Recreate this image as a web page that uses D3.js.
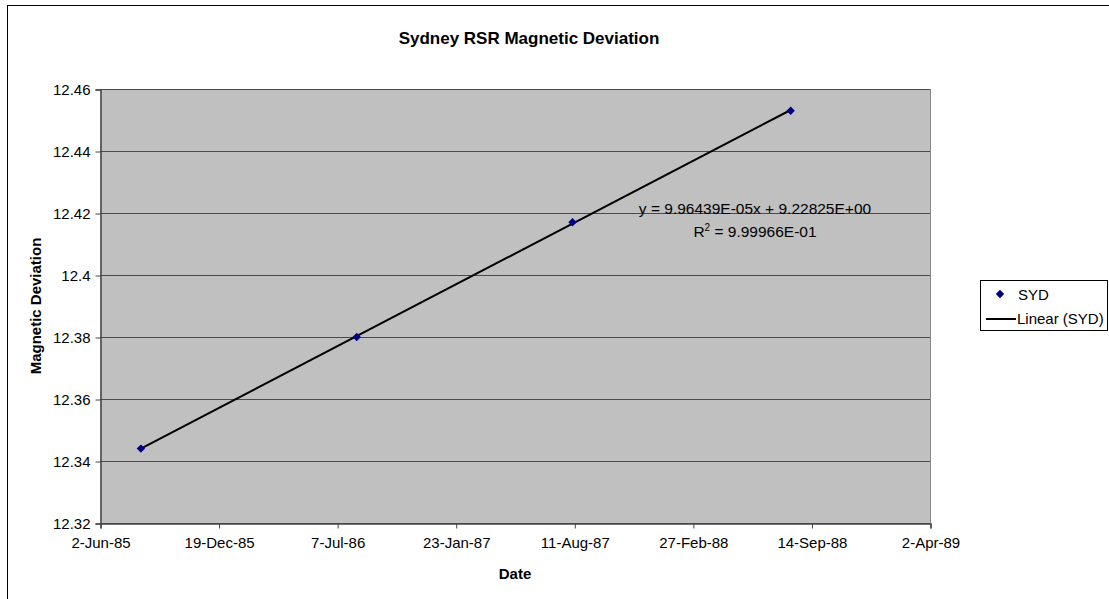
<!DOCTYPE html>
<html>
<head>
<meta charset="utf-8">
<script src="https://cdn.jsdelivr.net/npm/d3@7"></script>
<style>
  html, body { margin: 0; padding: 0; background: #fff; }
  svg { display: block; font-family: "Liberation Sans", Arial, sans-serif; }
</style>
</head>
<body>
<svg id="chart" width="1109" height="599"></svg>
<script>
// ---- Data ----
const title = "Sydney RSR Magnetic Deviation";
const xTitle = "Date";
const yTitle = "Magnetic Deviation";
const seriesName = "SYD";
const trendName = "Linear (SYD)";
const dates = ["1985-08-10", "1986-08-09", "1987-08-08", "1988-08-10"];
const values = [12.344, 12.380, 12.417, 12.453];
const xTickDates = ["1985-06-02", "1985-12-19", "1986-07-07", "1987-01-23", "1987-08-11", "1988-02-27", "1988-09-14", "1989-04-02"];
const xTickLabels = ["2-Jun-85", "19-Dec-85", "7-Jul-86", "23-Jan-87", "11-Aug-87", "27-Feb-88", "14-Sep-88", "2-Apr-89"];
const yTicks = [12.32, 12.34, 12.36, 12.38, 12.4, 12.42, 12.44, 12.46];
const yTickLabels = ["12.32", "12.34", "12.36", "12.38", "12.4", "12.42", "12.44", "12.46"];
const trendSlope = 9.96439e-05;
const trendIntercept = 9.22825;
const equationText = "y = 9.96439E-05x + 9.22825E+00";
const r2Value = "9.99966E-01";

// ---- Helpers ----
const excelEpoch = Date.UTC(1899, 11, 30);
const toSerial = s => (Date.parse(s + "T00:00:00Z") - excelEpoch) / 86400000;

const svg = d3.select("#chart");
const plot = { left: 100, top: 89, right: 930, bottom: 523 };

const xSerialTicks = xTickDates.map(toSerial);
const x = d3.scaleLinear()
  .domain([xSerialTicks[0], xSerialTicks[xSerialTicks.length - 1]])
  .range([plot.left, plot.right]);
const y = d3.scaleLinear()
  .domain([yTicks[0], yTicks[yTicks.length - 1]])
  .range([plot.bottom, plot.top]);

// outer chart border
svg.append("rect")
  .attr("x", 7.5).attr("y", 5.5)
  .attr("width", 1120).attr("height", 620)
  .attr("fill", "#fff").attr("stroke", "#000").attr("stroke-width", 1);

// plot background
svg.append("rect")
  .attr("x", plot.left).attr("y", plot.top)
  .attr("width", plot.right - plot.left).attr("height", plot.bottom - plot.top)
  .attr("fill", "#c0c0c0");

// gridlines
svg.append("g")
  .selectAll("line")
  .data(yTicks)
  .join("line")
  .attr("x1", plot.left).attr("x2", plot.right)
  .attr("y1", d => Math.round(y(d)) + 0.5).attr("y2", d => Math.round(y(d)) + 0.5)
  .attr("stroke", "#4a4a4a").attr("stroke-width", 1);

// plot border right side
svg.append("line")
  .attr("x1", plot.right + 0.5).attr("x2", plot.right + 0.5)
  .attr("y1", plot.top).attr("y2", plot.bottom)
  .attr("stroke", "#888");

// axes
const tickFont = 15;
const yAxis = d3.axisLeft(y)
  .tickValues(yTicks)
  .tickFormat((d, i) => yTickLabels[i])
  .tickSize(5).tickPadding(5);
const gy = svg.append("g").attr("transform", `translate(${plot.left + 0.5},0.5)`).call(yAxis);
const xAxis = d3.axisBottom(x)
  .tickValues(xSerialTicks)
  .tickFormat((d, i) => xTickLabels[i])
  .tickSize(5).tickPadding(9);
const gx = svg.append("g").attr("transform", `translate(0.5,${plot.bottom + 0.5})`).call(xAxis);
[gx, gy].forEach(g => {
  g.select(".domain").attr("stroke", "#444").attr("stroke-width", 1.5);
  g.selectAll(".tick line").attr("stroke", "#444");
  g.selectAll(".tick text").attr("fill", "#000").attr("font-size", tickFont)
   .attr("font-family", "Liberation Sans, Arial, sans-serif");
});

// trend line
const serials = dates.map(toSerial);
const xMin = d3.min(serials), xMax = d3.max(serials);
svg.append("line")
  .attr("x1", x(xMin)).attr("y1", y(trendSlope * xMin + trendIntercept))
  .attr("x2", x(xMax)).attr("y2", y(trendSlope * xMax + trendIntercept))
  .attr("stroke", "#000").attr("stroke-width", 2);

// markers
const diamond = d3.symbol().type(d3.symbolDiamond2 || d3.symbolDiamond).size(45);
svg.append("g")
  .selectAll("path")
  .data(values)
  .join("path")
  .attr("d", diamond)
  .attr("transform", (d, i) => `translate(${x(serials[i])},${y(d)})`)
  .attr("fill", "#000080");

// title
svg.append("text")
  .attr("x", 529).attr("y", 44)
  .attr("text-anchor", "middle")
  .attr("font-size", 17).attr("font-weight", "bold")
  .text(title);

// axis titles
svg.append("text")
  .attr("x", (plot.left + plot.right) / 2).attr("y", 579)
  .attr("text-anchor", "middle")
  .attr("font-size", 15).attr("font-weight", "bold")
  .text(xTitle);
svg.append("text")
  .attr("transform", `translate(41,${(plot.top + plot.bottom) / 2}) rotate(-90)`)
  .attr("text-anchor", "middle")
  .attr("font-size", 15).attr("font-weight", "bold")
  .text(yTitle);

// equation
const eq = svg.append("g").attr("font-size", 15.5);
eq.append("text").attr("x", 755).attr("y", 214).attr("text-anchor", "middle").text(equationText);
const r2 = eq.append("text").attr("x", 755).attr("y", 237).attr("text-anchor", "middle");
r2.append("tspan").text("R");
r2.append("tspan").attr("font-size", 10).attr("dy", -6).text("2");
r2.append("tspan").attr("dy", 6).text(" = " + r2Value);

// legend
const lg = svg.append("g");
lg.append("rect")
  .attr("x", 980.5).attr("y", 280.5).attr("width", 127).attr("height", 50)
  .attr("fill", "#fff").attr("stroke", "#000");
lg.append("path")
  .attr("d", diamond)
  .attr("transform", "translate(1000,294)")
  .attr("fill", "#000080");
lg.append("text").attr("x", 1018).attr("y", 300).attr("font-size", 15).text(seriesName);
lg.append("line").attr("x1", 986).attr("x2", 1016).attr("y1", 319).attr("y2", 319)
  .attr("stroke", "#000").attr("stroke-width", 2);
lg.append("text").attr("x", 1017).attr("y", 324).attr("font-size", 15).text(trendName);
</script>
</body>
</html>
